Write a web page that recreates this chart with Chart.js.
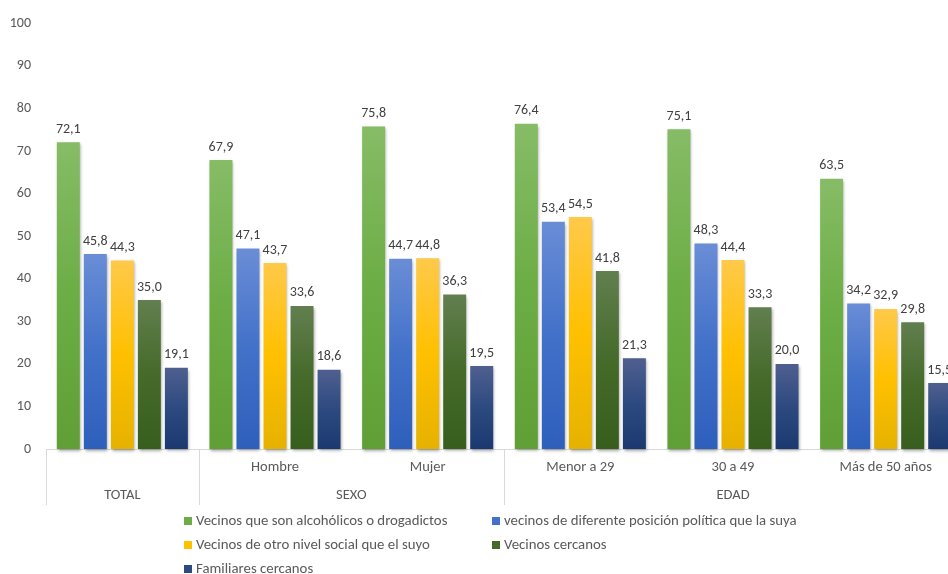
<!DOCTYPE html>
<html>
<head>
<meta charset="utf-8">
<script src="https://cdn.jsdelivr.net/npm/chart.js@4.4.1/dist/chart.umd.min.js"></script>
<style>
  html, body { margin: 0; padding: 0; background: #fff; overflow: hidden; }
  #marco { width: 948px; height: 574px; overflow: hidden; }
</style>
</head>
<body>
<div id="marco"><canvas id="grafico" width="964" height="574"></canvas></div>
<script>
// categorias del eje x (primer nivel) y grupos (segundo nivel)
let categorias = ['', 'Hombre', 'Mujer', 'Menor a 29', '30 a 49', 'Más de 50 años'];
let grupos = ['TOTAL', 'SEXO', 'EDAD'];
let tamGrupos = [1, 2, 3];

let nombres = [
  'Vecinos que son alcohólicos o drogadictos',
  'vecinos de diferente posición política que la suya',
  'Vecinos de otro nivel social que el suyo',
  'Vecinos cercanos',
  'Familiares cercanos'
];

let alcoholicos = [72.1, 67.9, 75.8, 76.4, 75.1, 63.5];
let politica = [45.8, 47.1, 44.7, 53.4, 48.3, 34.2];
let nivelSocial = [44.3, 43.7, 44.8, 54.5, 44.4, 32.9];
let cercanos = [35.0, 33.6, 36.3, 41.8, 33.3, 29.8];
let familiares = [19.1, 18.6, 19.5, 21.3, 20.0, 15.5];

let ticksY = [0, 100, 10]; // min, max, paso

// colores: arriba, medio, abajo
let colores = [
  ['#86bc66', '#6cad45', '#5f9f35'],
  ['#6a8dd6', '#4271c9', '#2e5fbb'],
  ['#ffc94a', '#ffc000', '#e6b200'],
  ['#627f4f', '#456a2a', '#385e1e'],
  ['#4f5f8f', '#2d4a80', '#1b3870']
];

let fuente = 'Carlito, Lato, sans-serif';
let gris = '#595959';

function degradado(i) {
  return function (c) {
    let chart = c.chart;
    if (!chart.chartArea || c.raw == null) return colores[i][1];
    let y = chart.scales.y;
    let arriba = y.getPixelForValue(c.raw);
    let abajo = y.getPixelForValue(0);
    let g = chart.ctx.createLinearGradient(0, arriba, 0, abajo);
    g.addColorStop(0, colores[i][0]);
    g.addColorStop(0.5, colores[i][1]);
    g.addColorStop(1, colores[i][2]);
    return g;
  };
}

let series = [alcoholicos, politica, nivelSocial, cercanos, familiares];

let datasets = series.map((d, i) => ({
  label: nombres[i],
  data: d,
  backgroundColor: degradado(i),
  borderWidth: 0,
  clip: false,
  categoryPercentage: 0.885,
  barPercentage: 0.85
}));

// sombra de las barras + etiquetas de valor
let sombraYEtiquetas = {
  id: 'sombraYEtiquetas',
  beforeDatasetsDraw(chart) {
    let ctx = chart.ctx;
    ctx.save();
    ctx.shadowColor = 'rgba(0,0,0,0.35)';
    ctx.shadowBlur = 3;
    ctx.shadowOffsetX = 1;
    ctx.shadowOffsetY = 2;
  },
  afterDatasetsDraw(chart) {
    let ctx = chart.ctx;
    ctx.restore();
    ctx.save();
    ctx.font = '14px ' + fuente;
    ctx.fillStyle = '#404040';
    ctx.textAlign = 'center';
    ctx.textBaseline = 'bottom';
    chart.data.datasets.forEach((ds, i) => {
      chart.getDatasetMeta(i).data.forEach((bar, j) => {
        let txt = ds.data[j].toFixed(1).replace('.', ',');
        ctx.fillText(txt, bar.x, bar.y - 6);
      });
    });
    ctx.restore();
  }
};

// segundo nivel del eje x y leyenda en dos columnas
let ejeYLeyenda = {
  id: 'ejeYLeyenda',
  afterDraw(chart) {
    let ctx = chart.ctx;
    let x = chart.scales.x;
    let base = chart.chartArea.bottom;
    let ancho = (x.right - x.left) / categorias.length;
    ctx.save();
    ctx.strokeStyle = '#d9d9d9';
    ctx.lineWidth = 1;
    ctx.font = '14.5px ' + fuente;
    ctx.fillStyle = gris;
    ctx.textAlign = 'center';
    ctx.textBaseline = 'middle';
    let k = 0;
    grupos.forEach((g, i) => {
      let ini = x.getPixelForValue(k) - ancho / 2;
      let fin = x.getPixelForValue(k + tamGrupos[i] - 1) + ancho / 2;
      ctx.beginPath();
      ctx.moveTo(Math.round(ini) + 0.5, base);
      ctx.lineTo(Math.round(ini) + 0.5, base + 56);
      ctx.stroke();
      ctx.fillText(g, (ini + fin) / 2, base + 46);
      k += tamGrupos[i];
    });

    // leyenda
    let colX = [184, 492];
    let filaY = [521, 545, 569];
    ctx.font = '14.8px ' + fuente;
    ctx.textAlign = 'left';
    chart.data.datasets.forEach((ds, i) => {
      let cx = colX[i % 2];
      let cy = filaY[Math.floor(i / 2)];
      ctx.fillStyle = colores[i][1];
      ctx.fillRect(cx, cy - 4, 8, 8);
      ctx.fillStyle = gris;
      ctx.fillText(ds.label, cx + 12, cy);
    });
    ctx.restore();
  }
};

new Chart(document.getElementById('grafico'), {
  type: 'bar',
  data: { labels: categorias, datasets: datasets },
  options: {
    responsive: false,
    animation: false,
    layout: { padding: { left: 10, right: 2, top: 19, bottom: 69 } },
    plugins: {
      legend: { display: false },
      tooltip: { enabled: false }
    },
    scales: {
      x: {
        grid: { display: false, drawTicks: false },
        border: { display: true, color: '#d9d9d9' },
        ticks: { color: gris, font: { family: fuente, size: 14.5 }, padding: 10, maxRotation: 0, autoSkip: false },
        afterFit(s) { s.height = 56; }
      },
      y: {
        min: ticksY[0],
        max: ticksY[1],
        grid: { display: false, drawTicks: false },
        border: { display: false },
        ticks: { stepSize: ticksY[2], color: gris, font: { family: fuente, size: 14 }, padding: 15 },
        afterFit(s) { s.width = 36; }
      }
    }
  },
  plugins: [sombraYEtiquetas, ejeYLeyenda]
});
</script>
</body>
</html>
